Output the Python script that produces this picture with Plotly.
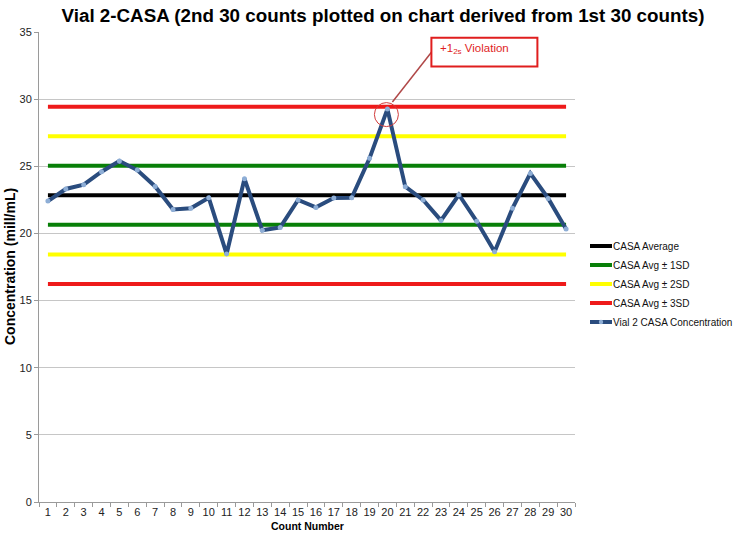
import plotly.graph_objects as go

# ---- data ----
count_numbers = [str(i) for i in range(1, 31)]
concentration = [22.41, 23.31, 23.63, 24.60, 25.39, 24.72, 23.50, 21.79, 21.87, 22.66,
                 18.47, 24.07, 20.23, 20.45, 22.49, 21.94, 22.64, 22.66, 25.59, 29.26,
                 23.48, 22.49, 20.97, 22.88, 20.90, 18.64, 21.87, 24.47, 22.61, 20.33]
casa_average = 22.84
casa_sd = 2.20
y_ticks = [0, 5, 10, 15, 20, 25, 30, 35]
legend_labels = ["CASA Average", "CASA Avg \u00b1 1SD", "CASA Avg \u00b1 2SD",
                 "CASA Avg \u00b1 3SD", "Vial 2 CASA Concentration"]
violation_count = "20"

FONT = "Liberation Sans, Arial, sans-serif"
BLACK, GREEN, YELLOW, RED = "#000000", "#087f08", "#ffff00", "#ee1a1a"
BLUE, MARKER = "#2a4c7e", "#8eaed6"

fig = go.Figure()

def hline(level, color):
    fig.add_trace(go.Scatter(x=count_numbers, y=[level] * len(count_numbers), mode="lines",
                             line=dict(color=color, width=4), showlegend=False,
                             hoverinfo="skip"))

for k, col in [(3, RED), (2, YELLOW), (1, GREEN)]:
    hline(casa_average + k * casa_sd, col)
    hline(casa_average - k * casa_sd, col)
hline(casa_average, BLACK)

fig.add_trace(go.Scatter(x=count_numbers, y=concentration, mode="lines+markers",
                         line=dict(color=BLUE, width=4),
                         marker=dict(color=MARKER, size=5, line=dict(width=0)),
                         showlegend=False))

# ---- violation annotation (anchored at the violating point; category index) ----
vi = count_numbers.index(violation_count)
vy = concentration[vi]
common = dict(xref="x", yref="y", xsizemode="pixel", ysizemode="pixel",
              xanchor=vi, yanchor=vy)
fig.add_shape(type="circle", x0=-13, x1=11, y0=-17.5, y1=6.5,
              line=dict(color="#d23c3c", width=1), **common)
fig.add_shape(type="line", x0=5, x1=45, y0=7, y1=58,
              line=dict(color="#b04848", width=1.5), **common)
fig.add_shape(type="rect", x0=44, x1=150, y0=42.7, y1=71.4,
              line=dict(color="#e01e1e", width=2), fillcolor="white", **common)
fig.add_annotation(x=vi, y=vy, xref="x", yref="y", xanchor="left", yanchor="middle",
                   xshift=51, yshift=60.5, showarrow=False,
                   text="+1<sub>2s</sub> Violation",
                   font=dict(family=FONT, size=11.5, color="#e01e1e"))

# ---- legend (drawn manually to match compact swatches) ----
L, T, PW, PH = 39.0, 32.0, 536.0, 470.0
legend_colors = [BLACK, GREEN, YELLOW, RED, BLUE]
for i, (lab, col) in enumerate(zip(legend_labels, legend_colors)):
    py = 246 + 19 * i
    yp = (T + PH - py) / PH
    fig.add_shape(type="line", xref="paper", yref="paper",
                  x0=(590 - L) / PW, x1=(612 - L) / PW, y0=yp, y1=yp,
                  line=dict(color=col, width=4))
    if col == BLUE:
        fig.add_shape(type="circle", xref="paper", yref="paper", xsizemode="pixel",
                      ysizemode="pixel", xanchor=(601 - L) / PW, yanchor=yp,
                      x0=-2.2, x1=2.2, y0=-2.2, y1=2.2,
                      fillcolor=MARKER, line=dict(width=0))
    fig.add_annotation(xref="paper", yref="paper", x=(611 - L) / PW, y=yp,
                       xanchor="left", yanchor="middle", showarrow=False, text=lab,
                       font=dict(family=FONT, size=10, color="#111111"))

# ---- axis titles ----
fig.add_annotation(xref="paper", yref="paper", x=(10 - L) / PW, y=0.5,
                   textangle=-90, showarrow=False, xanchor="center", yanchor="middle",
                   text="<b>Concentration (mill/mL)</b>",
                   font=dict(family=FONT, size=14, color="#000000"))
fig.add_annotation(xref="paper", yref="paper", x=0.5, y=(T + PH - 526) / PH,
                   showarrow=False, xanchor="center", yanchor="middle",
                   text="<b>Count Number</b>",
                   font=dict(family=FONT, size=10.5, color="#000000"))

fig.update_layout(
    width=739, height=535,
    margin=dict(l=39, r=164, t=32, b=33, autoexpand=False),
    paper_bgcolor="white", plot_bgcolor="white",
    title=dict(text="<b>Vial 2-CASA (2nd 30 counts plotted on chart derived from 1st 30 counts)</b>",
               x=383 / 739, xref="container", xanchor="center",
               y=1 - 15 / 535, yref="container", yanchor="middle",
               font=dict(family=FONT, size=18.8, color="#000000")),
    xaxis=dict(type="category", range=[-0.5, 29.5], tickson="boundaries",
               ticks="outside", ticklen=4, tickcolor="#9a9a9a", tickangle=0,
               showline=True, linecolor="#9a9a9a", linewidth=1, showgrid=False,
               automargin=False,
               tickfont=dict(family=FONT, size=11, color="#222222"), fixedrange=True),
    yaxis=dict(range=[0, 35], tickvals=y_ticks, ticks="outside", ticklen=4,
               tickcolor="#9a9a9a", showline=True, linecolor="#9a9a9a", linewidth=1,
               showgrid=True, gridcolor="#c6c6c6", gridwidth=1, zeroline=False,
               automargin=False,
               tickfont=dict(family=FONT, size=11, color="#222222")),
    showlegend=False,
)

fig.write_html("out.html", config={"displayModeBar": False},
               post_script="document.body.style.margin='0';document.body.style.overflow='hidden';")
